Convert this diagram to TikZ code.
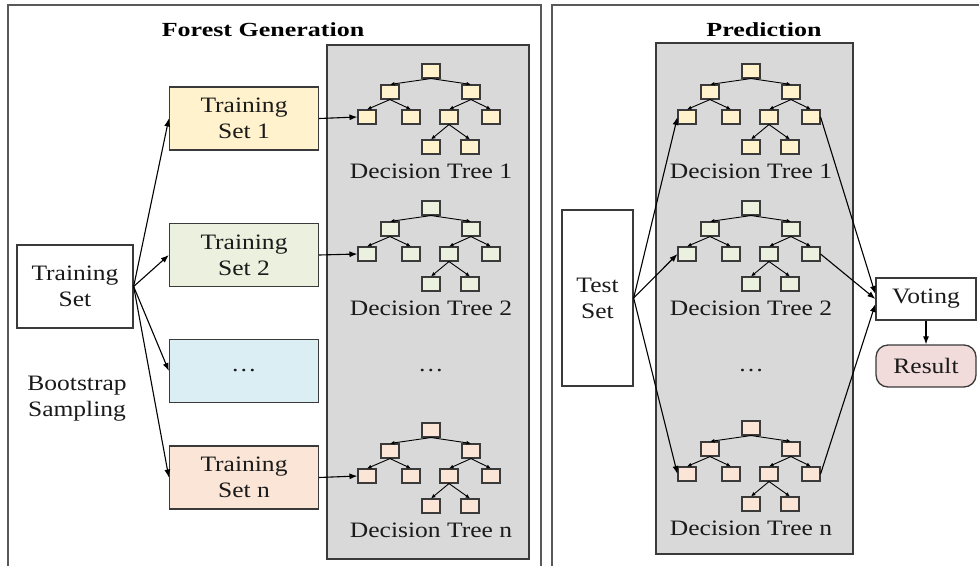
\documentclass[tikz,border=0pt]{standalone}
\usepackage{fontspec}
\setmainfont{Liberation Serif}[FakeStretch=1.16]
\newfontfamily\titlefont{Liberation Serif}[FakeStretch=1.3]
\usetikzlibrary{arrows.meta}
\definecolor{cyel}{HTML}{FFF2CC}
\definecolor{cgrn}{HTML}{EBF1DE}
\definecolor{cblu}{HTML}{DAEEF3}
\definecolor{cpch}{HTML}{FBE5D6}
\definecolor{cgry}{HTML}{D9D9D9}
\definecolor{cres}{HTML}{F2DCDB}
\definecolor{cbrd}{HTML}{3A3A3A}
\definecolor{ctxt}{HTML}{1A1A1A}

\newcommand\dtree[5]{%
  \begin{scope}[shift={(#2,#3)}]
    \node[tn,fill=#4] (#1r) at (0,0) {};
    \node[tn,fill=#4] (#1a) at (-41,21) {};
    \node[tn,fill=#4] (#1b) at (40,21) {};
    \node[tn,fill=#4] (#1c) at (-64,46) {};
    \node[tn,fill=#4] (#1d) at (-20,46) {};
    \node[tn,fill=#4] (#1e) at (18,46) {};
    \node[tn,fill=#4] (#1f) at (60,46) {};
    \node[tn,fill=#4] (#1g) at (0,76) {};
    \node[tn,fill=#4] (#1h) at (39,76) {};
    \node[lab] (#1l) at (0,100) {Decision Tree #5};
  \end{scope}
  \draw[tarr] (#1r.south) -- (#1a.north);
  \draw[tarr] (#1r.south) -- (#1b.north);
  \draw[tarr] (#1a.south) -- (#1c.north);
  \draw[tarr] (#1a.south) -- (#1d.north);
  \draw[tarr] (#1b.south) -- (#1e.north);
  \draw[tarr] (#1b.south) -- (#1f.north);
  \draw[tarr] (#1e.south) -- (#1g.north);
  \draw[tarr] (#1e.south) -- (#1h.north);
}

\begin{document}
\begin{tikzpicture}[x=1pt,y=-1pt,
  txt/.style={font=\fontsize{22}{26}\selectfont, text=ctxt},
  lab/.style={txt, inner sep=0pt},
  ttl/.style={font=\titlefont\bfseries\fontsize{20}{24}\selectfont, inner sep=0pt},
  tn/.style={draw=cbrd, line width=1.1pt, minimum width=18pt, minimum height=14pt, inner sep=0pt},
  tarr/.style={draw=black, line width=0.9pt, -{Latex[length=4.5pt,width=4pt]}},
  carr/.style={draw=black, line width=1.1pt, -{Latex[length=8pt,width=6pt]}},
  box/.style={txt, draw=cbrd, line width=1.3pt, align=center, inner sep=0pt},
  tsbox/.style={box, minimum width=149pt, minimum height=63pt},
  gbox/.style={draw=cbrd, line width=1.6pt, fill=cgry, inner sep=0pt},
  frame/.style={draw=black!65, line width=1.4pt}
]
\clip (0,0) rectangle (979,565);
\fill[white] (0,0) rectangle (979,565);

% panel frames
\draw[frame] (8,575) -- (8,5) -- (541,5) -- (541,575);
\draw[frame] (552,575) -- (552,5) -- (990,5);

% titles
\node[ttl] (tfg) at (263,30) {Forest Generation};
\node[ttl] (tpr) at (764,30) {Prediction};

% gray containers
\node[gbox, minimum width=202pt, minimum height=514pt] (gl) at (428,302) {};
\node[gbox, minimum width=197pt, minimum height=511pt] (gr) at (754.5,298.5) {};

% left panel boxes
\node[box, minimum width=116pt, minimum height=83pt] (ts) at (75,286.5) {Training\\Set};
\node[tsbox, fill=cyel] (ts1) at (244,118.5) {Training\\Set 1};
\node[tsbox, fill=cgrn] (ts2) at (244,255) {Training\\Set 2};
\node[tsbox, fill=cblu] (tsd) at (244,371) {\dots};
\node[tsbox, fill=cpch] (tsn) at (244,477.5) {Training\\Set n};
\node[lab, align=center] (boot) at (77,399) {Bootstrap\\Sampling};

% left trees
\dtree{La}{431}{71}{cyel}{1}
\dtree{Lb}{431}{208}{cgrn}{2}
\dtree{Ln}{431}{430}{cpch}{n}
\node[lab] (ldots) at (431,371) {\dots};

% left connectors
\draw[carr] (ts.east) -- (ts1.west);
\draw[carr] (ts.east) -- (ts2.west);
\draw[carr] (ts.east) -- (tsd.west);
\draw[carr] (ts.east) -- (tsn.west);
\draw[carr] (ts1.east) -- (Lac.west);
\draw[carr] (ts2.east) -- (Lbc.west);
\draw[carr] (tsn.east) -- (Lnc.west);

% right panel
\node[box, minimum width=71pt, minimum height=176pt] (test) at (597.5,298) {Test\\Set};
\dtree{Ra}{751}{71}{cyel}{1}
\dtree{Rb}{751}{208}{cgrn}{2}
\dtree{Rn}{751}{428}{cpch}{n}
\node[lab] (rdots) at (751,371) {\dots};

\node[box, minimum width=100pt, minimum height=42pt] (vote) at (926,299) {Voting};
\node[box, fill=cres, rounded corners=12pt, minimum width=100pt, minimum height=42pt] (res) at (926,366) {Result};

\draw[carr] (test.east) -- (Rac.west);
\draw[carr] (test.east) -- (Rbc.west);
\draw[carr] (test.east) -- (Rnc.west);
\draw[carr] (Raf.east) -- ([yshift=5pt]vote.west);
\draw[carr] (Rbf.east) -- (vote.west);
\draw[carr] (Rnf.east) -- ([yshift=-5pt]vote.west);
\draw[carr] (vote.south) -- (res.north);
\end{tikzpicture}
\end{document}
